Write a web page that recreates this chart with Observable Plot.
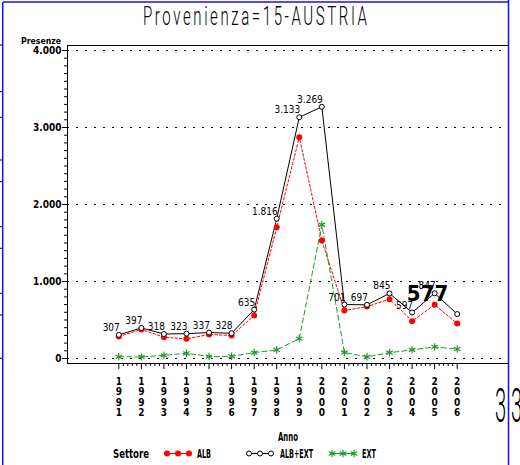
<!DOCTYPE html>
<html><head><meta charset="utf-8">
<script src="https://cdn.jsdelivr.net/npm/d3@7"></script>
<script src="https://cdn.jsdelivr.net/npm/@observablehq/plot@0.6"></script>
<style>
body{margin:0;background:#fff;}
#chart svg{display:block;}
</style></head><body><div id="chart"></div>
<script>
const years = [1991,1992,1993,1994,1995,1996,1997,1998,1999,2000,2001,2002,2003,2004,2005,2006];
const alb = [285,377,277,255,312,299,558,1705,2874,1532,623,675,770,485,697,455];
const ext = [22,20,41,68,25,29,77,111,259,1737,78,22,75,112,150,122];
const albExt = [307,397,318,323,337,328,635,1816,3133,3269,701,697,845,597,847,577];
const yTicks = [0,1000,2000,3000,4000];
const yTickLabels = ["0","1.000","2.000","3.000","4.000"];
const seriesNames = ["ALB","ALB+EXT","EXT"];
const seriesColors = ["#ff0000","#000000","#1f9a2a"];
const titleText = "Provenienza=15-AUSTRIA";
const yLabel = "Presenze";
const xLabel = "Anno";
const legendTitle = "Settore";

const rowsAlb = years.map((y,i)=>({year:y, value:alb[i]}));
const rowsExt = years.map((y,i)=>({year:y, value:ext[i]}));
const rowsTot = years.map((y,i)=>({year:y, value:albExt[i]}));
const itFmt = d3.formatLocale({decimal:",", thousands:".", grouping:[3], currency:["",""]}).format(",d");

const minorY = d3.range(0, 4001, 100).filter(v => v % 1000 !== 0);
const minorX = [];
for (let y = years[0]; y < years[years.length-1]; y++) for (let k = 1; k < 5; k++) minorX.push(y + k/5);

const F = "'Liberation Sans Narrow','DejaVu Sans Condensed','Arial Narrow',sans-serif";

const chart = Plot.plot({
  width: 520, height: 465,
  marginTop: 45, marginLeft: 67, marginRight: 12, marginBottom: 102,
  x: {domain: [1988.726, 2008.274]},
  y: {domain: [-65, 4065]},
  style: {fontFamily: F, background: "white", overflow: "visible", color: "#000"},
  marks: [
    Plot.gridY(yTicks, {stroke: "#000", strokeOpacity: 1, strokeDasharray: "2,7", strokeWidth: 1.2}),
    Plot.axisY({ticks: minorY, tickSize: 3, tickFormat: () => "", label: null}),
    Plot.axisY({ticks: yTicks, tickSize: 5, tickPadding: 1, fontSize: 10, fontWeight: "bold",
      tickFormat: d => yTickLabels[yTicks.indexOf(d)], label: null}),
    Plot.axisX({ticks: minorX, tickSize: 3, tickFormat: () => "", label: null}),
    Plot.axisX({ticks: years, tickSize: 6, tickPadding: 8, fontSize: 10, fontWeight: "bold", lineHeight: 1.05,
      tickFormat: d => String(d).split("").join("\n"), label: null}),
    Plot.frame({stroke: "#000"}),
    Plot.line(rowsAlb, {x: "year", y: "value", stroke: seriesColors[0], strokeDasharray: "2.5,2", strokeWidth: 1}),
    Plot.line(rowsExt, {x: "year", y: "value", stroke: seriesColors[2], strokeDasharray: "5,3", strokeWidth: 1}),
    Plot.line(rowsTot, {x: "year", y: "value", stroke: seriesColors[1], strokeWidth: 1}),
    Plot.dot(rowsAlb, {x: "year", y: "value", r: 3, fill: seriesColors[0]}),
    Plot.dot(rowsExt, {x: "year", y: "value", r: 3.5, symbol: "asterisk", stroke: seriesColors[2], strokeWidth: 1.2}),
    Plot.dot(rowsTot, {x: "year", y: "value", r: 2.5, stroke: seriesColors[1], fill: "white", strokeWidth: 1}),
    Plot.text(rowsTot.slice(0, -1), {x: "year", y: "value", text: d => itFmt(d.value), textAnchor: "end",
      lineAnchor: "bottom", dx: 1, dy: -4, fontSize: 10}),
    Plot.text(rowsTot.slice(-1), {x: "year", y: "value", text: d => itFmt(d.value), textAnchor: "end",
      lineAnchor: "bottom", dx: -9, dy: -13, fontSize: 22, fontWeight: "bold"})
  ]
});

const svg = d3.select(chart);
// page border lines
svg.append("line").attr("x1", 3).attr("x2", 508.5).attr("y1", 2).attr("y2", 2).attr("stroke", "#1010ff").attr("stroke-width", 1.5);
svg.append("line").attr("x1", 2.7).attr("x2", 2.7).attr("y1", 2).attr("y2", 465).attr("stroke", "#1010ff").attr("stroke-width", 1.5);
svg.append("line").attr("x1", 508.5).attr("x2", 508.5).attr("y1", 0).attr("y2", 465).attr("stroke", "#1010ff").attr("stroke-width", 1.5);
[45, 91.7, 117.3, 160, 181.7, 226.7, 248.3, 293.3, 315, 358.3].forEach(y => {
  svg.append("line").attr("x1", 0).attr("x2", 2).attr("y1", y).attr("y2", y).attr("stroke", "#000");
});
// title
svg.append("text").text(titleText)
  .attr("text-anchor", "start")
  .attr("transform", "translate(143,25) scale(0.6,1)")
  .attr("textLength", 224/0.6).attr("lengthAdjust", "spacing")
  .attr("font-family", "Roboto, 'DejaVu Sans', sans-serif").attr("font-weight", 300)
  .attr("font-size", 25).attr("fill", "#000");
// y label
svg.append("text").text(yLabel).attr("x", 21).attr("y", 44).attr("text-anchor", "start")
  .attr("textLength", 40).attr("lengthAdjust", "spacingAndGlyphs")
  .attr("font-family", F).attr("font-size", 9.5).attr("font-weight", "bold");
// x label
svg.append("text").text(xLabel).attr("x", 278).attr("y", 441).attr("text-anchor", "start")
  .attr("textLength", 20).attr("lengthAdjust", "spacingAndGlyphs")
  .attr("font-family", F).attr("font-size", 12).attr("font-weight", "bold");
// legend
svg.append("text").text(legendTitle).attr("x", 113).attr("y", 458).attr("text-anchor", "start")
  .attr("textLength", 36).attr("lengthAdjust", "spacingAndGlyphs")
  .attr("font-family", F).attr("font-size", 12).attr("font-weight", "bold");
const legX = [165, 247, 330];
const textX = [197, 280, 362];
const textW = [14, 33, 14];
seriesNames.forEach((name, i) => {
  const g = svg.append("g");
  const ly = 453.5;
  g.append("line").attr("x1", legX[i]).attr("x2", legX[i] + 25).attr("y1", ly).attr("y2", ly)
    .attr("stroke", seriesColors[i]).attr("stroke-width", 1.2);
  [2, 13, 24].forEach(dx => {
    const cx = legX[i] + dx;
    if (i === 0) g.append("circle").attr("cx", cx).attr("cy", ly).attr("r", 3).attr("fill", seriesColors[0]);
    else if (i === 1) g.append("circle").attr("cx", cx).attr("cy", ly).attr("r", 2.5).attr("fill", "white").attr("stroke", "#000");
    else g.append("path").attr("d", d3.symbol(d3.symbolAsterisk, 40)()).attr("transform", `translate(${cx},${ly})`)
      .attr("stroke", seriesColors[2]).attr("stroke-width", 1.2).attr("fill", "none");
  });
  g.append("text").text(name).attr("x", textX[i]).attr("y", 458).attr("text-anchor", "start")
    .attr("textLength", textW[i]).attr("lengthAdjust", "spacingAndGlyphs")
    .attr("font-family", F).attr("font-size", 12).attr("font-weight", "bold");
});
// stray large characters at right
[[495, "3"], [511, "3"]].forEach(([x, t]) => {
  svg.append("text").text(t).attr("text-anchor", "start").attr("transform", `translate(${x},422) scale(0.42,1)`)
    .attr("font-family", "Roboto, 'DejaVu Sans', sans-serif").attr("font-weight", 300)
    .attr("font-size", 48).attr("fill", "#000");
});
document.getElementById("chart").appendChild(chart);
</script>
</body></html>
